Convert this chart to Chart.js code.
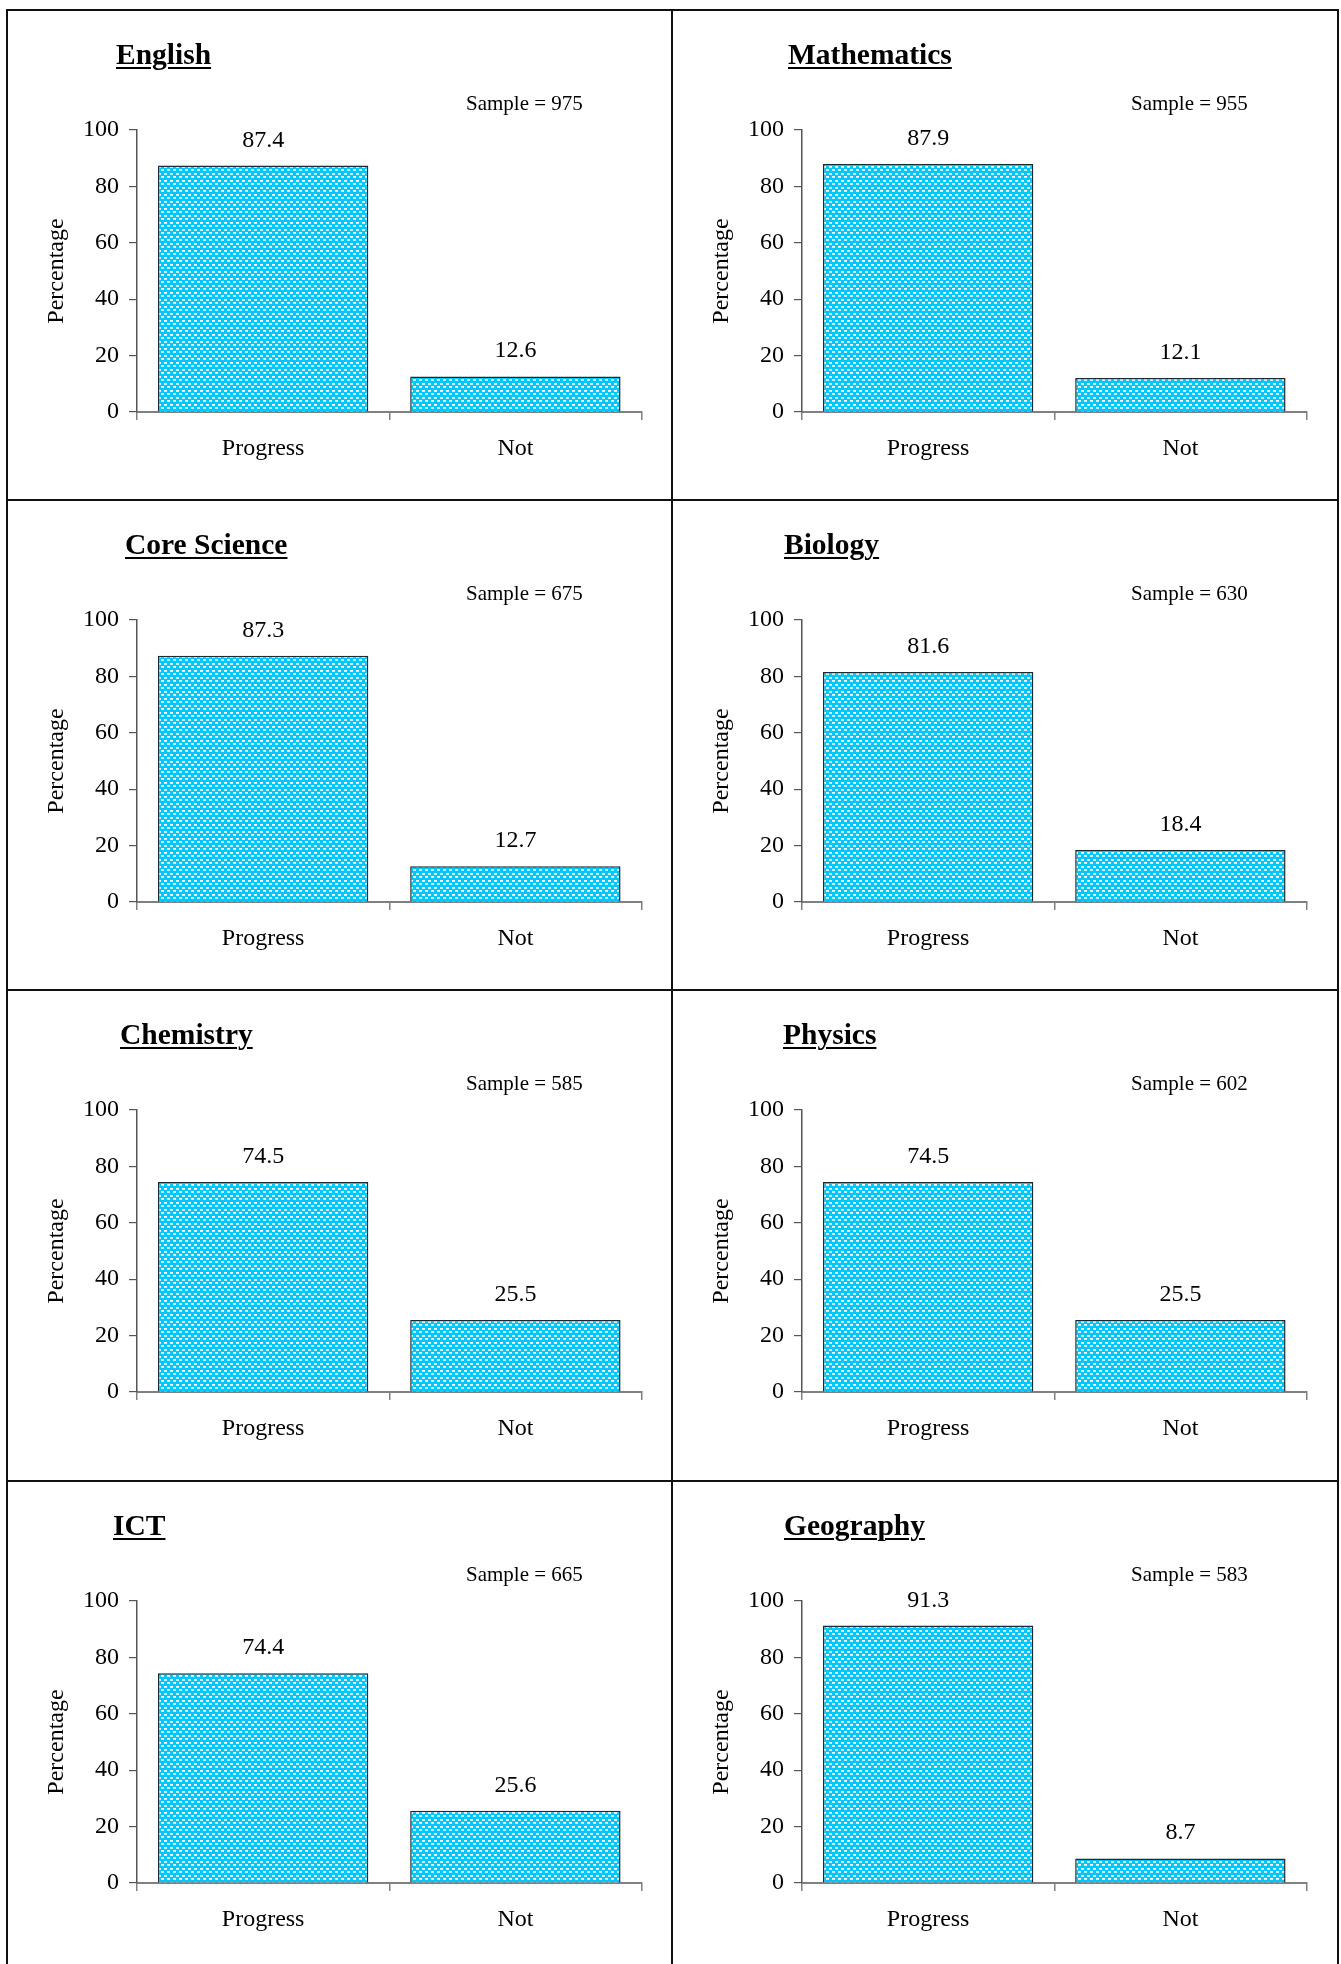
<!DOCTYPE html>
<html>
<head>
<meta charset="utf-8">
<script src="https://cdn.jsdelivr.net/npm/chart.js@4.4.1/dist/chart.umd.min.js"></script>
<style>
html, body { margin: 0; padding: 0; background: #fff; }
body { width: 1341px; height: 1964px; position: relative; overflow: hidden; font-family: "Liberation Serif", "Times New Roman", serif; color: #000; }
.vline { position: absolute; width: 2px; background: #111; top: 9px; height: 1955px; }
.hline { position: absolute; height: 2px; background: #111; left: 6px; width: 1333px; }
.cell { position: absolute; width: 663px; height: 488px; }
.cell canvas { position: absolute; left: 0; top: 0; }
.title { position: absolute; top: 29px; font-weight: bold; font-size: 29.5px; line-height: 29.5px; text-decoration: underline; text-decoration-thickness: 2px; text-underline-offset: 3px; white-space: nowrap; }
.sample { position: absolute; left: 458px; top: 82px; font-size: 21px; line-height: 21px; white-space: nowrap; }
</style>
</head>
<body>
<script>
const subjects = ['English', 'Mathematics', 'Core Science', 'Biology', 'Chemistry', 'Physics', 'ICT', 'Geography'];
const samples = [975, 955, 675, 630, 585, 602, 665, 583];
const progressPct = [87.4, 87.9, 87.3, 81.6, 74.5, 74.5, 74.4, 91.3];
const notPct = [12.6, 12.1, 12.7, 18.4, 25.5, 25.5, 25.6, 8.7];
const categories = ['Progress', 'Not'];
const yTicks = [0, 20, 40, 60, 80, 100];

// layout only
const titleLeft = [108, 115, 117, 111, 112, 110, 105, 111];
const colX = [6, 671, 1337];
const rowY = [9, 499, 989, 1480];
const serif = '"Liberation Serif", "Times New Roman", serif';

// grid lines round the panels
colX.forEach(x => {
    const d = document.createElement('div');
    d.className = 'vline';
    d.style.left = x + 'px';
    document.body.appendChild(d);
});
rowY.forEach(y => {
    const d = document.createElement('div');
    d.className = 'hline';
    d.style.top = y + 'px';
    document.body.appendChild(d);
});

// dotted cyan fill
function makePattern() {
    const tile = document.createElement('canvas');
    tile.width = 6;
    tile.height = 7;
    const c = tile.getContext('2d');
    c.fillStyle = '#00c8fa';
    c.fillRect(0, 0, 6, 7);
    c.fillStyle = '#ffffff';
    c.fillRect(0, 1, 3, 1);
    c.fillRect(3, 4, 3, 1);
    c.fillStyle = '#c4f3ff';
    c.fillRect(0, 2, 3, 1);
    c.fillRect(3, 5, 3, 1);
    return c.createPattern(tile, 'repeat');
}
const pattern = makePattern();

const valueLabels = {
    id: 'valueLabels',
    afterDatasetsDraw(chart) {
        const ctx = chart.ctx;
        const meta = chart.getDatasetMeta(0);
        ctx.save();
        ctx.font = '24px ' + serif;
        ctx.fillStyle = '#000';
        ctx.textAlign = 'center';
        ctx.textBaseline = 'alphabetic';
        meta.data.forEach((bar, i) => {
            const v = chart.data.datasets[0].data[i];
            ctx.fillText(v.toFixed(1), bar.x, bar.y - 19);
        });
        ctx.restore();
    }
};

subjects.forEach((name, i) => {
    const col = i % 2;
    const row = Math.floor(i / 2);
    const cell = document.createElement('div');
    cell.className = 'cell';
    cell.style.left = (colX[col] + 2) + 'px';
    cell.style.top = (rowY[row] + 2) + 'px';

    const canvas = document.createElement('canvas');
    canvas.width = 663;
    canvas.height = 488;
    cell.appendChild(canvas);

    const title = document.createElement('div');
    title.className = 'title';
    title.style.left = titleLeft[i] + 'px';
    title.textContent = name;
    cell.appendChild(title);

    const sample = document.createElement('div');
    sample.className = 'sample';
    sample.textContent = 'Sample = ' + samples[i];
    cell.appendChild(sample);

    document.body.appendChild(cell);

    new Chart(canvas, {
        type: 'bar',
        data: {
            labels: categories,
            datasets: [{
                data: [progressPct[i], notPct[i]],
                backgroundColor: pattern,
                borderColor: '#1c2a32',
                borderWidth: 1.5,
                barPercentage: 0.834,
                categoryPercentage: 1,
            }],
        },
        options: {
            responsive: false,
            animation: false,
            devicePixelRatio: 1,
            layout: { padding: { left: 0, top: 119, right: 29.5, bottom: 0 } },
            plugins: {
                legend: { display: false },
                tooltip: { enabled: false },
            },
            scales: {
                x: {
                    grid: { offset: true, drawOnChartArea: false, tickLength: 8, color: '#808080', lineWidth: 1.5 },
                    border: { color: '#808080', width: 2 },
                    ticks: { color: '#000', font: { family: serif, size: 24 }, padding: 14 },
                    afterFit: s => { s.height = 87; },
                },
                y: {
                    min: yTicks[0],
                    max: yTicks[yTicks.length - 1],
                    afterBuildTicks: s => { s.ticks = yTicks.map(v => ({ value: v })); },
                    grid: { drawOnChartArea: false, tickLength: 8, color: '#555', lineWidth: 1.2 },
                    border: { color: '#555', width: 1.5 },
                    ticks: { color: '#000', font: { family: serif, size: 24 }, padding: 10 },
                    title: {
                        display: true,
                        text: 'Percentage',
                        color: '#000',
                        font: { family: serif, size: 24 },
                        padding: { top: 34, bottom: 0 },
                    },
                    afterFit: s => { s.width = 129; },
                },
            },
        },
        plugins: [valueLabels],
    });
});
</script>
</body>
</html>
